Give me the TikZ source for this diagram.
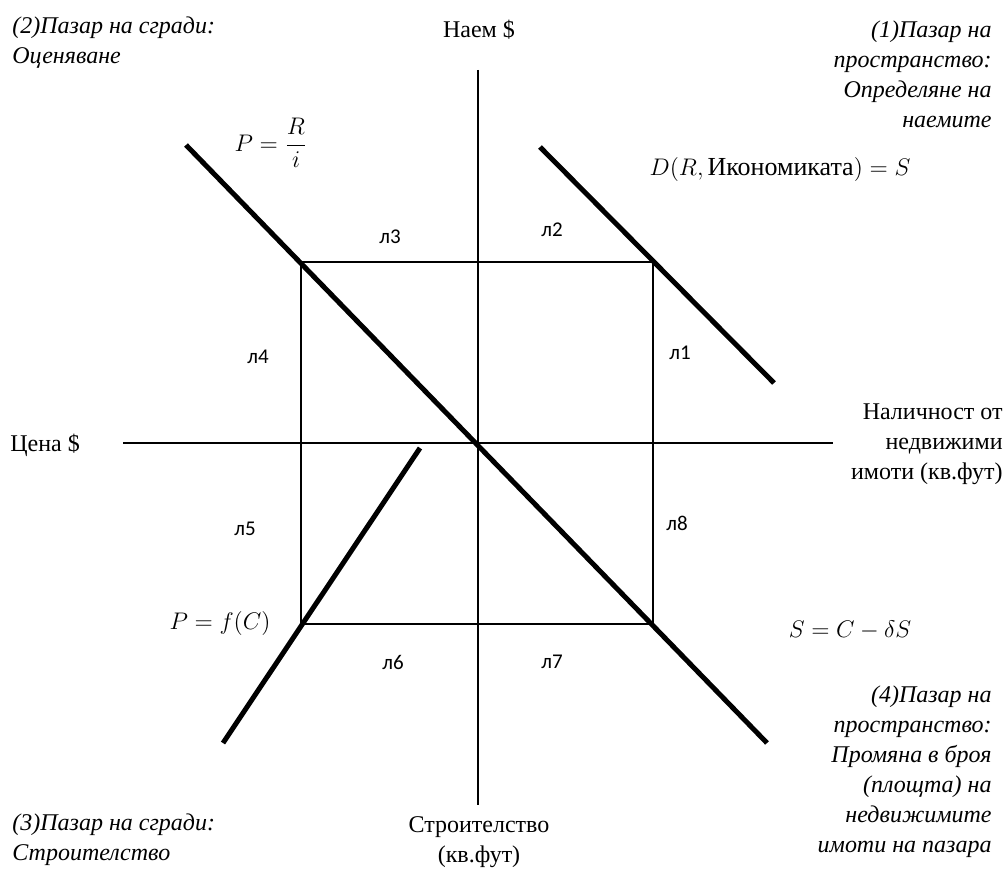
\documentclass[tikz,border=0pt]{standalone}
\usepackage{amsmath}
\usepackage{fontspec}
\setmainfont{Liberation Serif}
\newfontfamily\segfont{Carlito}
\tikzset{
    axisline/.style={line width=1.3pt},
    curveline/.style={line width=2.5pt},
    boxline/.style={line width=1.2pt},
    seglabel/.style={font=\segfont\fontsize{10.5}{12}\selectfont},
    textlabel/.style={font=\fontsize{12}{15}\selectfont, inner sep=0pt},
    eqlabel/.style={font=\fontsize{13}{15}\selectfont, inner sep=0pt},
    quadlabel/.style={font=\itshape\fontsize{12}{15}\selectfont, inner sep=0pt},
}

\begin{document}
\begin{tikzpicture}[x=0.5pt, y=-0.5pt]
    \useasboundingbox (0, 0) rectangle (1008, 872);

    % axes
    \coordinate (rentTop) at (478, 70);
    \coordinate (buildBottom) at (478, 805);
    \coordinate (priceLeft) at (123, 443);
    \coordinate (stockRight) at (833, 443);
    \draw[axisline] (rentTop) -- (buildBottom);
    \draw[axisline] (priceLeft) -- (stockRight);

    % the four-quadrant box
    \coordinate (q2) at (301, 262);
    \coordinate (q1) at (653, 262);
    \coordinate (q4) at (653, 624);
    \coordinate (q3) at (301, 624);
    \draw[boxline] (q2) -- (q1) -- (q4) -- (q3) -- cycle;

    % market curves
    \coordinate (valueA) at (186, 145);
    \coordinate (valueB) at (767, 743);
    \coordinate (demandA) at (540, 147);
    \coordinate (demandB) at (774, 383);
    \coordinate (constrA) at (420, 448);
    \coordinate (constrB) at (223, 743);
    \draw[curveline] (valueA) -- (valueB);
    \draw[curveline] (demandA) -- (demandB);
    \draw[curveline] (constrA) -- (constrB);

    % segment labels
    \node (l1) at (680, 353) [seglabel] {л1};
    \node (l2) at (552, 230) [seglabel] {л2};
    \node (l3) at (390, 237) [seglabel] {л3};
    \node (l4) at (258, 357) [seglabel] {л4};
    \node (l5) at (245, 529) [seglabel] {л5};
    \node (l6) at (393, 662) [seglabel] {л6};
    \node (l7) at (552, 662) [seglabel] {л7};
    \node (l8) at (677, 523) [seglabel] {л8};

    % equations
    \node (eqValue) at (271, 143) [eqlabel] {$P = \dfrac{R}{i}$};
    \node (eqDemand) at (780, 170) [eqlabel] {$D(R, \text{Икономиката}) = S$};
    \node (eqConstr) at (220, 623) [eqlabel] {$P = f(C)$};
    \node (eqStock) at (850, 630) [eqlabel] {$S = C - \delta S$};

    % axis names
    \node (rent) at (479, 30) [textlabel] {Наем \$};
    \node (price) at (10, 445) [textlabel, anchor=west] {Цена \$};
    \node (stock) at (1003, 444) [textlabel, anchor=east, align=right] {Наличност от\\недвижими\\имоти (кв.фут)};
    \node (build) at (479, 842) [textlabel, align=center] {Строителство\\(кв.фут)};

    % quadrant names
    \node (quadTwo) at (12, 43) [quadlabel, anchor=west, align=left] {(2)Пазар на сгради:\\Оценяване};
    \node (quadOne) at (992, 74) [quadlabel, anchor=east, align=right] {(1)Пазар на\\пространство:\\Определяне на\\наемите};
    \node (quadThree) at (12, 840) [quadlabel, anchor=west, align=left] {(3)Пазар на сгради:\\Строителство};
    \node (quadFour) at (992, 772) [quadlabel, anchor=east, align=right] {(4)Пазар на\\пространство:\\Промяна в броя\\(площта) на\\недвижимите\\имоти на пазара};
\end{tikzpicture}
\end{document}
